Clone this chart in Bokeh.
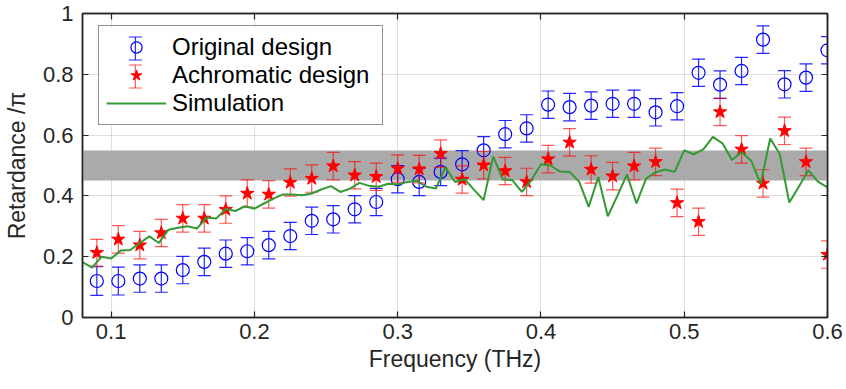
import numpy as np
from bokeh.plotting import figure
from bokeh.models import (ColumnDataSource, FixedTicker, LinearAxis, Legend,
                          LegendItem, Range1d)
from bokeh.embed import file_html
from bokeh.resources import INLINE

# ---- measured retardance (units of pi) ----
freq = [0.09, 0.105, 0.12, 0.135, 0.15, 0.165, 0.18, 0.195, 0.21, 0.225,
        0.24, 0.255, 0.27, 0.285, 0.30, 0.315, 0.33, 0.345, 0.36, 0.375,
        0.39, 0.405, 0.42, 0.435, 0.45, 0.465, 0.48, 0.495, 0.51, 0.525,
        0.54, 0.555, 0.57, 0.585, 0.60]

original = [0.120, 0.120, 0.128, 0.128, 0.156, 0.183, 0.210, 0.218, 0.238, 0.268,
            0.318, 0.323, 0.356, 0.380, 0.455, 0.446, 0.479, 0.504, 0.550, 0.603,
            0.622, 0.700, 0.692, 0.697, 0.703, 0.703, 0.675, 0.695, 0.805, 0.766,
            0.811, 0.914, 0.767, 0.789, 0.879]
original_err = [0.047, 0.046, 0.045, 0.045, 0.045, 0.045, 0.045, 0.045, 0.045, 0.045,
                0.045, 0.045, 0.045, 0.045, 0.045, 0.045, 0.045, 0.045, 0.045, 0.045,
                0.045, 0.045, 0.045, 0.045, 0.045, 0.045, 0.045, 0.045, 0.045, 0.045,
                0.045, 0.045, 0.045, 0.045, 0.045]

achromatic = [0.213, 0.257, 0.238, 0.278, 0.326, 0.326, 0.355, 0.408, 0.405, 0.444,
              0.457, 0.498, 0.468, 0.463, 0.490, 0.488, 0.539, 0.454, 0.501, 0.482,
              0.446, 0.521, 0.576, 0.487, 0.465, 0.498, 0.512, 0.377, 0.315, 0.676,
              0.553, 0.441, 0.614, 0.512, 0.207]
achromatic_err = [0.044, 0.045, 0.045, 0.045, 0.045, 0.045, 0.045, 0.045, 0.045, 0.045,
                  0.045, 0.045, 0.045, 0.045, 0.045, 0.045, 0.045, 0.045, 0.045, 0.045,
                  0.045, 0.045, 0.045, 0.045, 0.045, 0.045, 0.045, 0.045, 0.045, 0.045,
                  0.045, 0.045, 0.045, 0.045, 0.045]

# ---- simulated retardance on a uniform frequency grid ----
sim_freq = np.linspace(0.08, 0.6, 79)
simulation = [0.182, 0.164, 0.200, 0.194, 0.220, 0.222, 0.245, 0.267, 0.245, 0.289,
              0.295, 0.300, 0.293, 0.329, 0.326, 0.357, 0.350, 0.366, 0.358, 0.375,
              0.391, 0.405, 0.405, 0.402, 0.408, 0.421, 0.432, 0.413, 0.424, 0.443,
              0.433, 0.430, 0.440, 0.438, 0.446, 0.450, 0.430, 0.424, 0.495, 0.446,
              0.455, 0.420, 0.386, 0.530, 0.454, 0.452, 0.413, 0.452, 0.504, 0.500,
              0.480, 0.479, 0.447, 0.364, 0.462, 0.333, 0.400, 0.471, 0.375, 0.457,
              0.478, 0.487, 0.479, 0.550, 0.537, 0.553, 0.594, 0.573, 0.518, 0.544,
              0.516, 0.440, 0.589, 0.538, 0.378, 0.430, 0.484, 0.447, 0.428]

# target band (half-wave +/- tolerance)
band_low, band_high = 0.45, 0.55

x_start, x_end = 0.08, 0.6
y_start, y_end = 0.0, 1.0
x_ticks = [0.1, 0.2, 0.3, 0.4, 0.5, 0.6]
x_tick_labels = ["0.1", "0.2", "0.3", "0.4", "0.5", "0.6"]
y_ticks = [0.0, 0.2, 0.4, 0.6, 0.8, 1.0]
y_tick_labels = ["0", "0.2", "0.4", "0.6", "0.8", "1"]

FONT = "Liberation Sans"
INK = "#262626"
BLUE = "#0000ff"
RED = "#ff0000"
GREEN = "#339933"

W, H = 846, 389
BL, BR, BT, BB = 80, 19, 13, 72
FW, FH = W - BL - BR, H - BT - BB     # plot frame size in pixels

p = figure(width=W, height=H, output_backend="svg", toolbar_location=None,
           x_range=Range1d(x_start, x_end), y_range=Range1d(y_start, y_end),
           min_border_left=BL, min_border_right=BR, min_border_top=BT,
           min_border_bottom=BB)
p.background_fill_color = "white"
p.border_fill_color = "white"
p.outline_line_color = INK
p.outline_line_width = 1.5

# pixel-based ranges used only to lay out the legend box contents
p.extra_x_ranges = {"px": Range1d(0, FW)}
p.extra_y_ranges = {"px": Range1d(0, FH)}

p.xaxis.ticker = FixedTicker(ticks=x_ticks)
p.yaxis.ticker = FixedTicker(ticks=y_ticks)
p.xaxis.major_label_overrides = dict(zip(x_ticks, x_tick_labels))
p.yaxis.major_label_overrides = dict(zip(y_ticks, y_tick_labels))
p.xaxis.axis_label = "Frequency (THz)"
p.yaxis.axis_label = "Retardance /π"

for ax in p.xaxis + p.yaxis:
    ax.axis_line_color = INK
    ax.axis_line_width = 1.5
    ax.major_tick_in = 6
    ax.major_tick_out = 0
    ax.major_tick_line_color = INK
    ax.major_tick_line_width = 1.2
    ax.minor_tick_line_color = None
    ax.major_label_text_font = FONT
    ax.major_label_text_font_size = "22px"
    ax.major_label_text_color = INK
    ax.axis_label_text_font = FONT
    ax.axis_label_text_font_size = "23px"
    ax.axis_label_text_font_style = "normal"
    ax.axis_label_text_color = INK
p.xaxis.major_label_standoff = 6
p.xaxis.axis_label_standoff = 4
p.yaxis.major_label_standoff = 9
p.yaxis.axis_label_standoff = 10

# box-style frame: inward ticks on the top and right edges, labels hidden
for side, ticks in (("above", x_ticks), ("right", y_ticks)):
    ax = LinearAxis(ticker=FixedTicker(ticks=ticks), axis_line_color=INK,
                    axis_line_width=1.5, major_tick_in=6, major_tick_out=0,
                    major_tick_line_color=INK, major_tick_line_width=1.2,
                    minor_tick_line_color=None, major_label_text_color=None,
                    major_label_text_alpha=0, major_label_text_font_size="1px",
                    major_label_standoff=0)
    p.add_layout(ax, side)

p.grid.grid_line_color = INK
p.grid.grid_line_alpha = 0.15
p.grid.grid_line_width = 1
p.xgrid.ticker = FixedTicker(ticks=x_ticks)
p.ygrid.ticker = FixedTicker(ticks=y_ticks)

# tolerance band
p.hstrip(y0=[band_low], y1=[band_high], fill_color="#aaaaaa", line_color=None)

orig_src = ColumnDataSource(dict(
    x=freq, y=original,
    lo=[v - e for v, e in zip(original, original_err)],
    hi=[v + e for v, e in zip(original, original_err)]))
achro_src = ColumnDataSource(dict(
    x=freq, y=achromatic,
    lo=[v - e for v, e in zip(achromatic, achromatic_err)],
    hi=[v + e for v, e in zip(achromatic, achromatic_err)]))

CAP = 13


def error_bars(src, color, alpha, **ranges):
    p.segment(x0="x", x1="x", y0="lo", y1="hi", source=src,
              line_color=color, line_alpha=alpha, line_width=1.2, **ranges)
    p.scatter(x="x", y="lo", source=src, marker="dash", size=CAP,
              line_color=color, line_alpha=alpha, line_width=1.2, **ranges)
    p.scatter(x="x", y="hi", source=src, marker="dash", size=CAP,
              line_color=color, line_alpha=alpha, line_width=1.2, **ranges)


error_bars(orig_src, BLUE, 0.85)
r_orig = p.scatter(x="x", y="y", source=orig_src, marker="circle", size=13,
                   fill_color=None, line_color=BLUE, line_width=1.2)
error_bars(achro_src, RED, 0.65)
r_achro = p.scatter(x="x", y="y", source=achro_src, marker="star", size=14,
                    fill_color=RED, line_color=RED, line_width=1)
r_sim = p.line(sim_freq, simulation, line_color=GREEN, line_width=2)

# ---- legend ----
LEG_X, LEG_Y = 16, 192          # bottom-left of legend box, from frame bottom-left
PAD, ROW, GW, STANDOFF, LABEL_W = 7, 28, 60, 6, 203
leg_w = 2 * PAD + GW + STANDOFF + LABEL_W
leg_h = 2 * PAD + 3 * ROW
px = dict(x_range_name="px", y_range_name="px")

# opaque legend background, drawn among the glyphs so the error-bar symbols sit on it
p.quad(left=[LEG_X], right=[LEG_X + leg_w], bottom=[LEG_Y], top=[LEG_Y + leg_h],
       fill_color="white", line_color=None, **px)

# error-bar symbols for the first two legend entries
glyph_cx = LEG_X + PAD + GW / 2
HALF = 11.5
for row, (color, alpha) in enumerate(((BLUE, 0.85), (RED, 0.65))):
    cy = LEG_Y + leg_h - PAD - ROW * row - ROW / 2
    src = ColumnDataSource(dict(x=[glyph_cx], lo=[cy - HALF], hi=[cy + HALF]))
    error_bars(src, color, alpha, **px)

legend = Legend(items=[LegendItem(label="Original design", renderers=[r_orig]),
                       LegendItem(label="Achromatic design", renderers=[r_achro]),
                       LegendItem(label="Simulation", renderers=[r_sim])],
                location=(LEG_X, LEG_Y), padding=PAD, spacing=0, margin=0,
                glyph_width=GW, glyph_height=ROW, label_height=ROW,
                label_width=LABEL_W, label_standoff=STANDOFF,
                label_text_font=FONT, label_text_font_size="24px",
                label_text_color="black", border_line_color=INK,
                border_line_width=1.5, background_fill_alpha=0.0)
p.add_layout(legend)

open("out.html", "w").write(file_html(p, INLINE))
